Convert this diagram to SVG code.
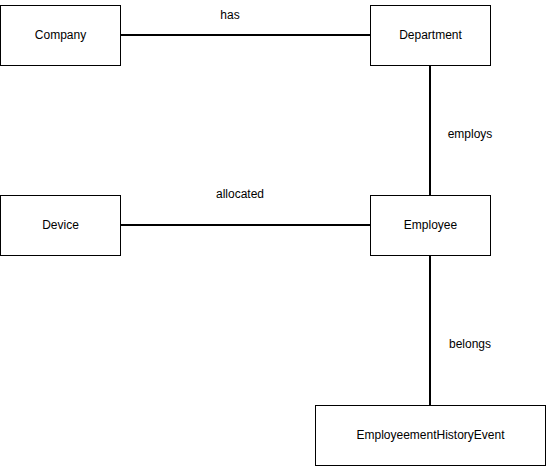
<svg xmlns="http://www.w3.org/2000/svg" width="546" height="466" viewBox="0 0 546 466">
<style>
.box{fill:#fff;stroke:#000;stroke-width:1}
.lbl{font-family:"Liberation Sans",Arial,sans-serif;font-size:12px;fill:#000;text-anchor:middle;dominant-baseline:central}
.edge{stroke:#000;stroke-width:2;fill:none}
</style>
<rect width="546" height="466" fill="#fff"/>
<g id="connectors">
<path class="edge" d="M120 35H370"/>
<path class="edge" d="M430 65V195"/>
<path class="edge" d="M120 225H370"/>
<path class="edge" d="M430 255V405"/>
<text class="lbl" x="230" y="15">has</text>
<text class="lbl" x="470" y="134">employs</text>
<text class="lbl" x="240" y="194">allocated</text>
<text class="lbl" x="470" y="344">belongs</text>
</g>
<g id="company"><rect class="box" x="0.5" y="5.5" width="120" height="60"/><text class="lbl" x="60.5" y="34.5">Company</text></g>
<g id="department"><rect class="box" x="370.5" y="5.5" width="120" height="60"/><text class="lbl" x="430.5" y="34.5">Department</text></g>
<g id="device"><rect class="box" x="0.5" y="195.5" width="120" height="60"/><text class="lbl" x="60.5" y="224.5">Device</text></g>
<g id="employee"><rect class="box" x="370.5" y="195.5" width="120" height="60"/><text class="lbl" x="430.5" y="224.5">Employee</text></g>
<g id="history"><rect class="box" x="315.5" y="405.5" width="230" height="60"/><text class="lbl" x="430.5" y="434.5">EmployeementHistoryEvent</text></g>
</svg>
